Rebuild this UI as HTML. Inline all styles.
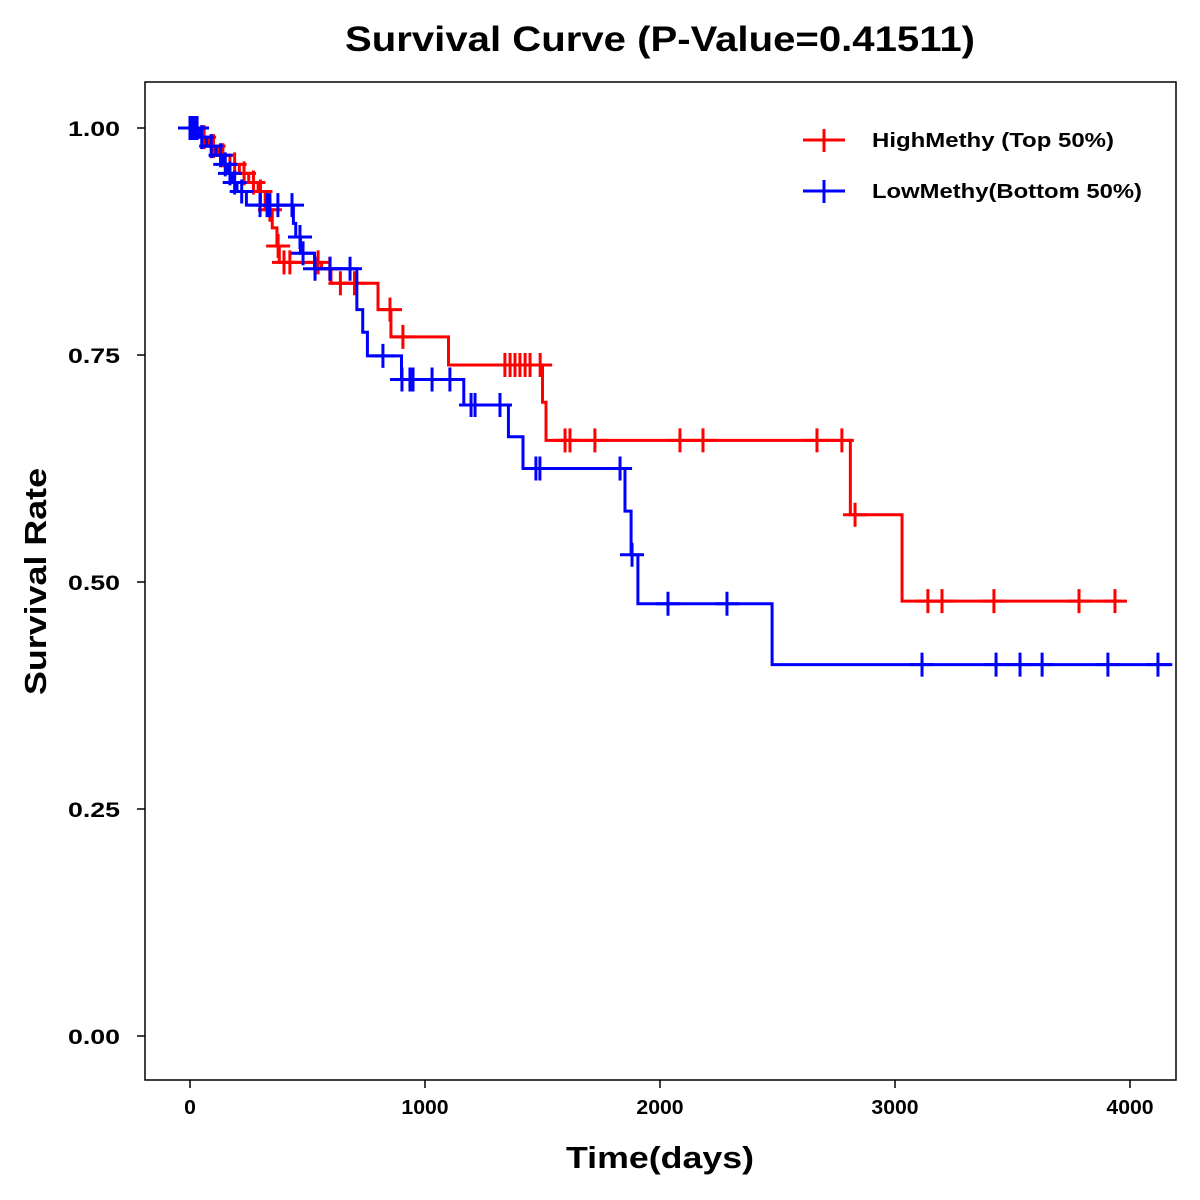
<!DOCTYPE html>
<html><head><meta charset="utf-8"><style>
html,body{margin:0;padding:0;background:#fff}
svg{display:block}
text{font-family:"Liberation Sans",Arial,sans-serif;font-weight:bold;fill:#000}
</style></head><body>
<svg id="chart" width="1200" height="1200" viewBox="0 0 1200 1200">
<text x="345" y="51" font-size="35" textLength="630" lengthAdjust="spacingAndGlyphs">Survival Curve (P-Value=0.41511)</text>
<rect x="145" y="82" width="1031" height="998" fill="none" stroke="#000" stroke-width="1.5"/>
<text x="566" y="1168" font-size="31" textLength="188" lengthAdjust="spacingAndGlyphs">Time(days)</text>
<text x="-695" y="46" font-size="31" textLength="227" lengthAdjust="spacingAndGlyphs" transform="rotate(-90)">Survival Rate</text>
<g id="axes"></g>
<g id="series"></g>
<g>
<line x1="803" y1="140" x2="845" y2="140" stroke="#f00" stroke-width="3"/>
<line x1="824" y1="129" x2="824" y2="152" stroke="#f00" stroke-width="3"/>
<text x="872" y="147" font-size="20" textLength="242" lengthAdjust="spacingAndGlyphs">HighMethy (Top 50%)</text>
<line x1="803" y1="191" x2="845" y2="191" stroke="#00f" stroke-width="3"/>
<line x1="824" y1="180" x2="824" y2="203" stroke="#00f" stroke-width="3"/>
<text x="872" y="198" font-size="20" textLength="270" lengthAdjust="spacingAndGlyphs">LowMethy(Bottom 50%)</text>
</g>
</svg>
<script>
const xTicks=[0,1000,2000,3000,4000];
const yTicks=[0,0.25,0.5,0.75,1.0];
const yTickLabels=["0.00","0.25","0.50","0.75","1.00"];
const highTimes=[0,30,80,120,170,210,250,290,320,350,370,380,560,600,800,855,1100,1500,1515,2810,3030];
const highSurv=[1,0.99,0.98,0.97,0.96,0.95,0.94,0.93,0.91,0.89,0.87,0.852,0.845,0.829,0.80,0.77,0.739,0.698,0.656,0.574,0.479];
const highEnd=3960;
const highCensor=[60,100,140,190,230,270,300,340,375,400,425,545,595,640,700,851,906,1340,1362,1383,1404,1426,1447,1490,1596,1617,1723,2085,2183,2668,2774,2830,3140,3200,3421,3783,3936];
const lowTimes=[0,40,70,110,140,160,180,200,240,440,450,470,530,710,735,755,900,1165,1355,1417,1851,1877,1906,2477];
const lowSurv=[1,0.99,0.98,0.97,0.96,0.95,0.94,0.93,0.915,0.895,0.88,0.862,0.845,0.80,0.775,0.749,0.723,0.695,0.66,0.625,0.578,0.53,0.476,0.409];
const lowEnd=4180;
const lowCensor=[0,10,20,30,50,90,130,150,170,190,220,298,328,340,374,434,468,481,532,596,681,821,902,936,949,1030,1106,1196,1213,1319,1472,1489,1830,1881,2034,2285,3115,3430,3532,3626,3906,4119];
const X=t=>190+t*0.235;
const Y=s=>1036-s*908;
const NS="http://www.w3.org/2000/svg";
function mk(tag,attrs,parent){const e=document.createElementNS(NS,tag);for(const k in attrs)e.setAttribute(k,attrs[k]);parent.appendChild(e);return e;}
const axes=document.getElementById('axes');
xTicks.forEach(v=>{
  const l=mk('line',{x1:X(v),x2:X(v),y1:1080,y2:1088,stroke:'#000','stroke-width':1.5},axes);
  
  
  const s=String(v);
  const w=s.length*11.8;
  const t=mk('text',{x:X(v)-w/2,y:1114,'font-size':20,textLength:w,lengthAdjust:'spacingAndGlyphs'},axes);
  t.textContent=s;
  
  
});
yTicks.forEach((v,i)=>{
  const l=mk('line',{x1:137,x2:145,y1:Y(v),y2:Y(v),stroke:'#000','stroke-width':1.5},axes);
  
  
  const t=mk('text',{x:68,y:Y(v)+8,'font-size':21,textLength:52,lengthAdjust:'spacingAndGlyphs'},axes);
  t.textContent=yTickLabels[i];
  
  
});
const series=document.getElementById('series');
function survAt(times,surv,t){let s=surv[0];for(let i=0;i<times.length;i++){if(times[i]<=t)s=surv[i];}return s;}
function draw(times,surv,end,cens,color,name){
  let d='M'+X(times[0])+','+Y(surv[0]);
  for(let i=1;i<times.length;i++){d+=' H'+X(times[i])+' V'+Y(surv[i]);}
  d+=' H'+X(end);
  const p=mk('path',{d:d,fill:'none',stroke:color,'stroke-width':3},series);
  
  
  cens.forEach(t=>{
    const s=survAt(times,surv,t);
    const cx=X(t),cy=Y(s);
    const g=mk('path',{d:'M'+(cx-12)+','+cy+' H'+(cx+12)+' M'+cx+','+(cy-12)+' V'+(cy+12),stroke:color,'stroke-width':3,fill:'none'},series);
    
    
  });
}
draw(highTimes,highSurv,highEnd,highCensor,'#f00','high-methy');
draw(lowTimes,lowSurv,lowEnd,lowCensor,'#00f','low-methy');
</script>
</body></html>
